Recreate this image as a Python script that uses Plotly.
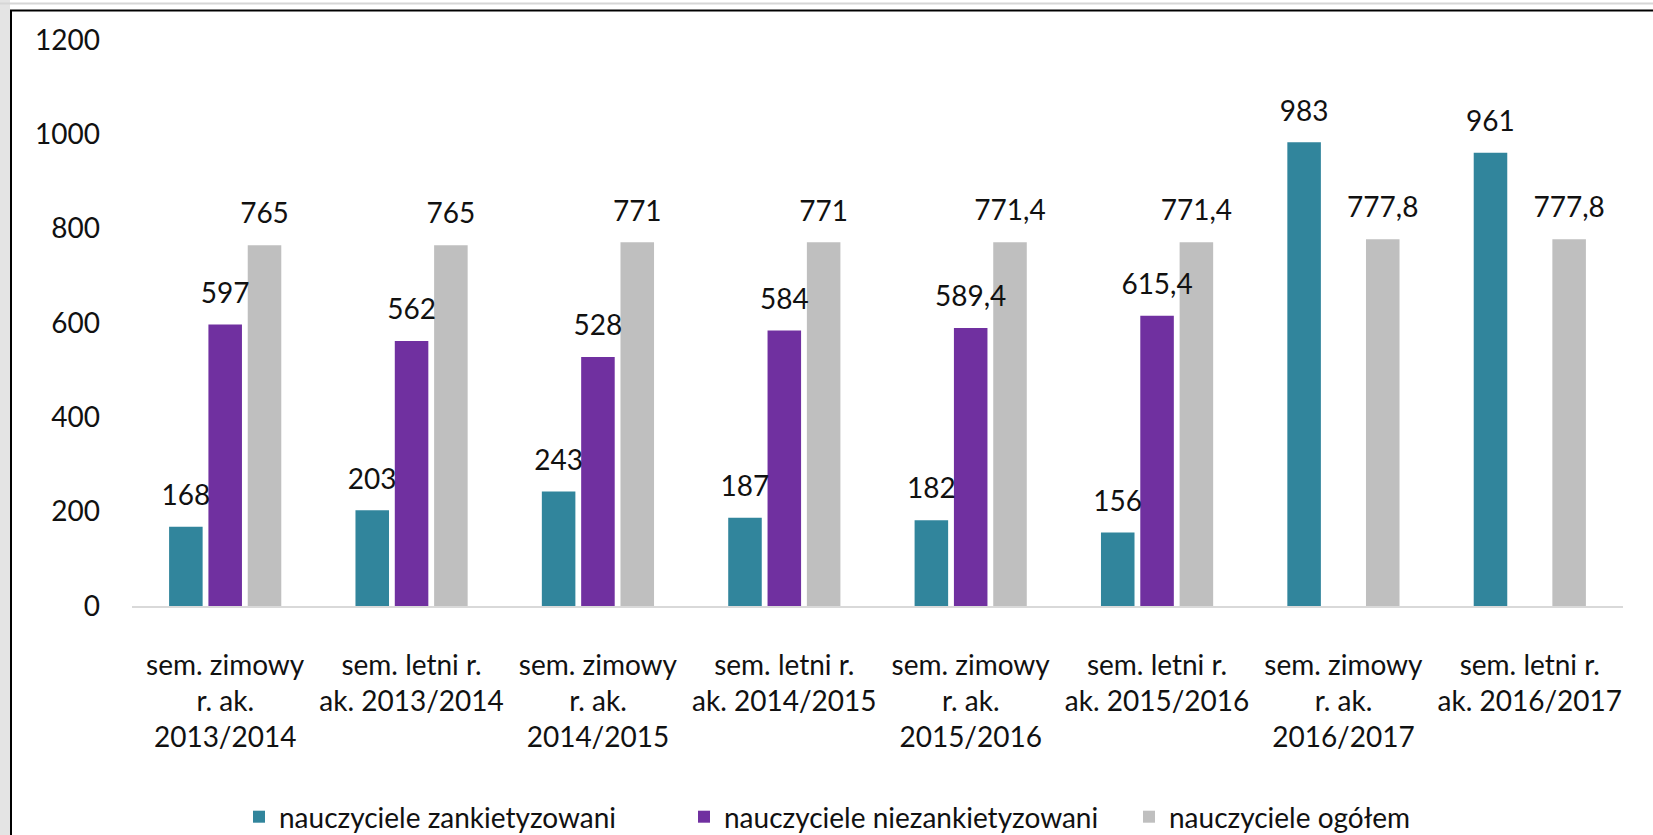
import plotly.graph_objects as go

# ---------------- data ----------------
categories = [
    "sem. zimowy<br>r. ak.<br>2013/2014",
    "sem. letni r.<br>ak. 2013/2014",
    "sem. zimowy<br>r. ak.<br>2014/2015",
    "sem. letni r.<br>ak. 2014/2015",
    "sem. zimowy<br>r. ak.<br>2015/2016",
    "sem. letni r.<br>ak. 2015/2016",
    "sem. zimowy<br>r. ak.<br>2016/2017",
    "sem. letni r.<br>ak. 2016/2017",
]
surveyed = [168, 203, 243, 187, 182, 156, 983, 961]
not_surveyed = [597, 562, 528, 584, 589.4, 615.4, None, None]
total = [765, 765, 771, 771, 771.4, 771.4, 777.8, 777.8]
series_names = ["nauczyciele zankietyzowani", "nauczyciele niezankietyzowani", "nauczyciele ogółem"]
y_ticks = [0, 200, 400, 600, 800, 1000, 1200]

colors = ["#31859C", "#7030A0", "#BFBFBF"]

# ---------------- layout geometry ----------------
W, H = 1653, 835
ML, MR, MT, MB = 132, 30, 40, 229
PW, PH = W - ML - MR, H - MT - MB
FONT = "Lato, 'Noto Sans', sans-serif"
FS = 28
TXT = "#111111"


def fmt(v):
    if v is None:
        return ""
    s = ("%g" % v)
    return s.replace(".", ",")


fig = go.Figure()
groups = ["a", "b", "c"]
for vals, name, col, g in zip([surveyed, not_surveyed, total], series_names, colors, groups):
    fig.add_trace(go.Bar(
        x=categories, y=vals, name=name, marker_color=col, marker_line_width=0,
        offsetgroup=g, hoverinfo="skip",
    ))
for vals, col, g in zip([surveyed, not_surveyed, total], colors, groups):
    fig.add_trace(go.Scatter(
        x=categories, y=vals, mode="markers+text", text=[fmt(v) for v in vals],
        textposition="top center", textfont=dict(family=FONT, size=FS, color=TXT),
        marker=dict(size=22, opacity=0, color=col), offsetgroup=g,
        showlegend=False, hoverinfo="skip",
    ))

px = lambda x: (x - ML) / PW
py = lambda y: (H - MB - y) / PH

fig.update_layout(
    width=W, height=H,
    margin=dict(l=ML, r=MR, t=MT, b=MB, autoexpand=False),
    paper_bgcolor="white", plot_bgcolor="white",
    barmode="group", bargap=0.367, bargroupgap=0.147,
    scattermode="group", scattergap=0.367,
    font=dict(family=FONT, size=FS, color=TXT),
    showlegend=True,
    legend=dict(
        orientation="h", x=px(239), xanchor="left", y=py(817), yanchor="middle",
        font=dict(family=FONT, size=FS, color=TXT), bgcolor="rgba(0,0,0,0)",
        itemwidth=30, tracegroupgap=0, entrywidth=400, entrywidthmode="pixels",
    ),
    xaxis=dict(
        type="category", showgrid=False, zeroline=False, showline=True,
        linecolor="#D9D9D9", linewidth=2, ticks="", tickangle=0,
        ticklabelstandoff=33, tickfont=dict(family=FONT, size=FS, color=TXT),
    ),
    yaxis=dict(
        range=[0, 1200], tickvals=y_ticks, ticktext=[str(t) for t in y_ticks],
        showgrid=False, zeroline=False, showline=False, ticks="",
        ticklabelstandoff=31, tickfont=dict(family=FONT, size=FS, color=TXT),
    ),
    shapes=[
        dict(type="rect", xref="paper", yref="paper", x0=px(0), x1=px(10), y0=py(H), y1=py(0),
             fillcolor="#E4E4E4", line_width=0, layer="below"),
        dict(type="line", xref="paper", yref="paper", x0=px(0), x1=px(W), y0=py(3.5), y1=py(3.5),
             line=dict(color="#D6D6D6", width=2)),
        dict(type="line", xref="paper", yref="paper", x0=px(10), x1=px(W), y0=py(10.5), y1=py(10.5),
             line=dict(color="#000000", width=2)),
        dict(type="line", xref="paper", yref="paper", x0=px(11), x1=px(11), y0=py(10), y1=py(H),
             line=dict(color="#000000", width=2)),
    ],
)

fig.write_html(
    "out.html",
    config={"displayModeBar": False, "staticPlot": True},
    post_script=(
        "document.documentElement.style.margin='0';"
        "document.documentElement.style.overflow='hidden';"
        "document.body.style.margin='0';document.body.style.overflow='hidden';"
    ),
)
